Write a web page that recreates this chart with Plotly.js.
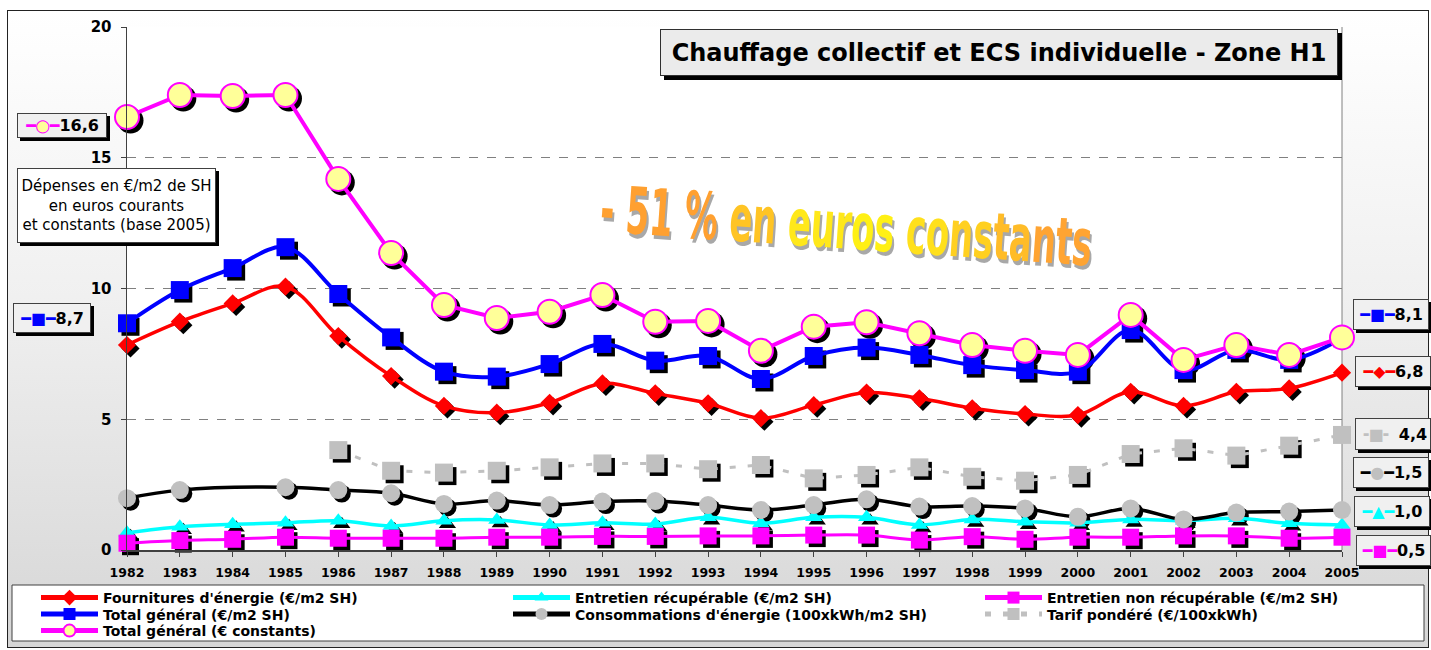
<!DOCTYPE html>
<html><head><meta charset="utf-8">
<script src="https://cdn.plot.ly/plotly-3.0.1.min.js"></script>
<style>
html,body{margin:0;padding:0;width:1431px;height:650px;overflow:hidden;background:#fff;}
#frame{position:absolute;left:7px;top:10px;width:1422px;height:638px;border:1px solid #222;box-sizing:border-box;
background:linear-gradient(to bottom,#ffffff 0%,#f0f0f0 45%,#d6d6d6 100%);}
#chart{position:absolute;left:0;top:0;width:1431px;height:650px;}
</style></head><body>
<div id="frame"></div><div id="chart"></div>
<script>
// ---------- data ----------
const years = [1982,1983,1984,1985,1986,1987,1988,1989,1990,1991,1992,1993,1994,1995,1996,1997,1998,1999,2000,2001,2002,2003,2004,2005];
const fournitures      = [7.84,8.73,9.43,10.07,8.18,6.65,5.51,5.25,5.63,6.37,5.99,5.61,5.04,5.54,6.02,5.80,5.42,5.20,5.16,6.05,5.51,6.05,6.18,6.78];
const entretienRecup   = [0.66,0.89,0.98,1.04,1.12,0.92,1.12,1.15,0.96,1.04,0.99,1.25,1.02,1.25,1.25,0.96,1.17,1.08,1.04,1.17,1.12,1.21,1.02,0.96];
const entretienNonRecup= [0.26,0.36,0.41,0.49,0.45,0.45,0.45,0.49,0.49,0.52,0.52,0.54,0.54,0.57,0.57,0.38,0.51,0.41,0.49,0.49,0.54,0.54,0.45,0.49];
const totalGeneral     = [8.67,9.94,10.78,11.58,9.79,8.13,6.82,6.63,7.11,7.88,7.24,7.42,6.54,7.42,7.74,7.46,7.07,6.88,6.82,8.41,6.88,7.65,7.27,8.10];
const consommations    = [1.98,2.29,null,2.40,2.29,2.17,1.76,1.89,1.72,1.85,1.87,1.72,1.53,1.72,1.94,1.66,1.68,1.59,1.27,1.59,1.17,1.43,1.47,1.53];
const tarif            = [null,null,null,null,3.82,3.03,2.96,3.03,3.16,3.31,3.31,3.09,3.25,2.74,2.87,3.16,2.80,2.65,2.87,3.67,3.89,3.61,3.99,4.40];
const totalConstants   = [16.56,17.40,17.36,17.40,14.19,11.36,9.37,8.87,9.11,9.75,8.73,8.76,7.62,8.54,8.71,8.29,7.84,7.62,7.46,8.99,7.27,7.84,7.46,8.13];
const yTicks = [0,5,10,15,20];

const names = {
  f:"Fournitures d'énergie (€/m2 SH)",
  er:"Entretien récupérable (€/m2 SH)",
  enr:"Entretien non récupérable (€/m2 SH)",
  tg:"Total général (€/m2 SH)",
  c:"Consommations d'énergie (100xkWh/m2 SH)",
  t:"Tarif pondéré (€/100xkWh)",
  tc:"Total général (€ constants)"
};

// ---------- geometry ----------
const W=1431,H=650,L=127,R=89,T=27,B=100;
const PW=W-L-R, PH=H-T-B;
const px2x = p => (p-L)/PW;
const py2y = p => (H-B-p)/PH;
const SH=3.5;
const dx = SH*(years[years.length-1]-years[0])/PW;
const dy = SH*20/PH;

// legend slot: [column left px, row centre px]
const series = [
  {key:'f',  y:fournitures,       color:'#ff0000', width:3.5, shape:'spline', symbol:'diamond',     size:14, mfill:'#ff0000', slot:[36,598]},
  {key:'er', y:entretienRecup,    color:'#00ffff', width:3.5, shape:'spline', symbol:'triangle-up', size:15, mfill:'#00ffff', slot:[508,598]},
  {key:'enr',y:entretienNonRecup, color:'#ff00ff', width:3,   shape:'spline', symbol:'square',      size:17, mfill:'#ff00ff', slot:[980,598]},
  {key:'tg', y:totalGeneral,      color:'#0000ff', width:4,   shape:'spline', symbol:'square',      size:18, mfill:'#0000ff', slot:[36,614.5]},
  {key:'c',  y:consommations,     color:'#000000', width:3.5, shape:'spline', symbol:'circle',      size:18, mfill:'#c0c0c0', slot:[508,614.5]},
  {key:'t',  y:tarif,             color:'#c0c0c0', width:3,   shape:'linear', symbol:'square',      size:18, mfill:'#c0c0c0', slot:[980,614.5], dash:'6px,12px'},
  {key:'tc', y:totalConstants,    color:'#ff00ff', width:4,   shape:'linear', symbol:'circle',      size:24, mfill:'#ffff99', slot:[36,631], mline:'#ff00ff'}
];

const data = [];
series.forEach(s=>{
  data.push({type:'scatter',mode:'markers',x:years,y:s.y,xaxis:'x',yaxis:'y',showlegend:false,hoverinfo:'skip',cliponaxis:false,
    marker:{symbol:s.symbol,size:s.size+(s.mline?2:0),color:'#000000',line:{width:0}}});
});
const FF='DejaVu Sans, Verdana, sans-serif';
const legFont={family:FF,size:14,weight:'bold',color:'#000'};
const legends={};
series.forEach((s,i)=>{
  const lid = i===0?'legend':'legend'+(i+1);
  legends[lid]={orientation:'v',xanchor:'left',yanchor:'middle',bgcolor:'rgba(0,0,0,0)',borderwidth:0,font:legFont,
    itemwidth:57,itemsizing:'constant',x:px2x(s.slot[0]),y:py2y(s.slot[1])};
  data.push({type:'scatter',mode:'lines+markers',name:names[s.key],x:years,y:s.y,xaxis:'x2',yaxis:'y2',legend:lid,
    cliponaxis:false,connectgaps:true,
    line:{color:s.color,width:s.width,shape:s.shape,smoothing:1,dash:s.dash||'solid'},
    marker:{symbol:s.symbol,size:s.size,color:s.mfill,line:{width:s.mline?2:0,color:s.mline||s.mfill}}});
});

// ---------- boxes ----------
const annotations=[], shapes=[];
function box(x0,y0,x1,y1,text,opt){
  opt=opt||{};
  const pad=opt.pad||3, off=opt.off||3;
  annotations.push({xref:'paper',yref:'paper',x:px2x((x0+x1)/2),y:py2y((y0+y1)/2),xanchor:'center',yanchor:'middle',
    showarrow:false,text:text,align:'center',bgcolor:opt.bg||'#f0f0f0',bordercolor:opt.bc||'#404040',borderwidth:1,borderpad:pad,
    width:(x1-x0)-2*pad-2,height:(y1-y0)-2*pad-2,
    font:opt.font||{family:FF,size:16,weight:'bold',color:'#000'}});
  shapes.push({type:'rect',xref:'paper',yref:'paper',layer:'above',x0:px2x(x0+off),x1:px2x(x1+off),y0:py2y(y0+off),y1:py2y(y1+off),
    fillcolor:'#000',line:{width:0}});
}
const fmt = v => v.toFixed(1).replace('.',',');
const last = a => a[a.length-1];
const sp = (c,t,extra) => `<span style="color:${c}${extra?';'+extra:''}">${t}</span>`;

box(660,29,1338,76,'Chauffage collectif et ECS individuelle - Zone H1',{bg:'#ebebeb',bc:'#303030',off:4,font:{family:FF,size:24,weight:'bold',color:'#000'}});
box(17,168,216,243,'Dépenses en €/m2 de SH<br>en euros courants<br>et constants (base 2005)',{bg:'#ffffff',font:{family:FF,size:15,color:'#000'}});
box(17,113,107,138, sp('#ff00ff','━')+sp('#ffff99','●','stroke:#ff00ff;stroke-width:1px')+sp('#ff00ff','━')+fmt(totalConstants[0]));
box(13,303,91,333, sp('#0000ff','━■━')+fmt(totalGeneral[0]));
box(1353,299,1429,330, sp('#0000ff','━■━')+fmt(last(totalGeneral)));
box(1355,356,1431,387, sp('#ff0000','━◆━')+fmt(last(fournitures)));
box(1355,418,1431,450, sp('#c0c0c0','╺■╸')+' '+fmt(last(tarif)));
box(1353,457,1429,488, sp('#000000','━')+sp('#c0c0c0','●')+sp('#000000','━')+fmt(last(consommations)));
box(1354,496,1430,527, sp('#00ffff','━▲━')+fmt(last(entretienRecup)));
box(1356,535,1431,566, sp('#ff00ff','━■━')+fmt(last(entretienNonRecup)));

// big slogan
const sloganIndex = annotations.length;
const sloganParts = [['- 51 % ','#ffa030'],['en ','#ffc424'],['eur','#ffe81a'],['os ','#fff014'],['co','#ffe01c'],['ns','#ffd020'],['ta','#ffbc28'],['nts','#ffa432']];
annotations.push({xref:'paper',yref:'paper',x:px2x(846),y:py2y(226),xanchor:'center',yanchor:'middle',showarrow:false,textangle:4,
  text:sloganParts.map(p=>sp(p[1],p[0])).join(''),
  font:{family:'Liberation Sans Narrow, DejaVu Sans Condensed, DejaVu Sans, sans-serif',size:52,weight:'bold',color:'#ffc020',shadow:'3px 3px 0px #a8a8a8'}});

// legend frame and plot right border
shapes.push({type:'rect',xref:'paper',yref:'paper',layer:'below',x0:px2x(12),x1:px2x(1424),y0:py2y(585),y1:py2y(641),fillcolor:'#ffffff',line:{color:'#404040',width:1}});
shapes.push({type:'line',xref:'paper',yref:'paper',layer:'below',x0:1,x1:1,y0:0,y1:1,line:{color:'#808080',width:1}});

const layout=Object.assign({
  width:W,height:H,margin:{l:L,r:R,t:T,b:B,autoexpand:false},
  paper_bgcolor:'rgba(0,0,0,0)',plot_bgcolor:'#ffffff',showlegend:true,hovermode:false,
  xaxis:{range:[years[0]-dx,years[years.length-1]-dx],showgrid:false,zeroline:false,showline:false,showticklabels:false,ticks:''},
  yaxis:{range:[yTicks[0]+dy,yTicks[yTicks.length-1]+dy],showgrid:false,zeroline:false,showline:false,showticklabels:false,ticks:''},
  xaxis2:{overlaying:'x',anchor:'y2',side:'bottom',range:[years[0],years[years.length-1]],tickvals:years,ticktext:years.map(String),
    showgrid:false,zeroline:false,showline:true,linecolor:'#404040',linewidth:1.5,ticks:'outside',ticklen:5,tickcolor:'#404040',
    ticklabelstandoff:5,tickfont:{family:FF,size:12.5,weight:'bold',color:'#000'}},
  yaxis2:{overlaying:'y',anchor:'x2',side:'left',range:[yTicks[0],yTicks[yTicks.length-1]],tickvals:yTicks,
    showgrid:true,gridcolor:'#808080',griddash:'dash',gridwidth:1,zeroline:false,showline:true,linecolor:'#404040',linewidth:1.5,
    ticks:'outside',ticklen:5,tickcolor:'#404040',ticklabelstandoff:6,tickfont:{family:FF,size:15,weight:'bold',color:'#000'}},
  annotations:annotations,shapes:shapes
},legends);

Plotly.newPlot('chart',data,layout,{staticPlot:true,displayModeBar:false}).then(gd=>{
  // condense the slogan horizontally and stretch it vertically (WordArt look)
  const g = gd.querySelectorAll('.annotation')[sloganIndex];
  if(!g) return;
  const t = g.querySelector('text');
  if(!t) return;
  const bb = t.getBBox();
  const cx = bb.x+bb.width/2, cy = bb.y+bb.height/2;
  t.setAttribute('transform',`translate(${cx},${cy}) scale(0.72,1.25) translate(${-cx},${-cy})`);
});
</script></body></html>
